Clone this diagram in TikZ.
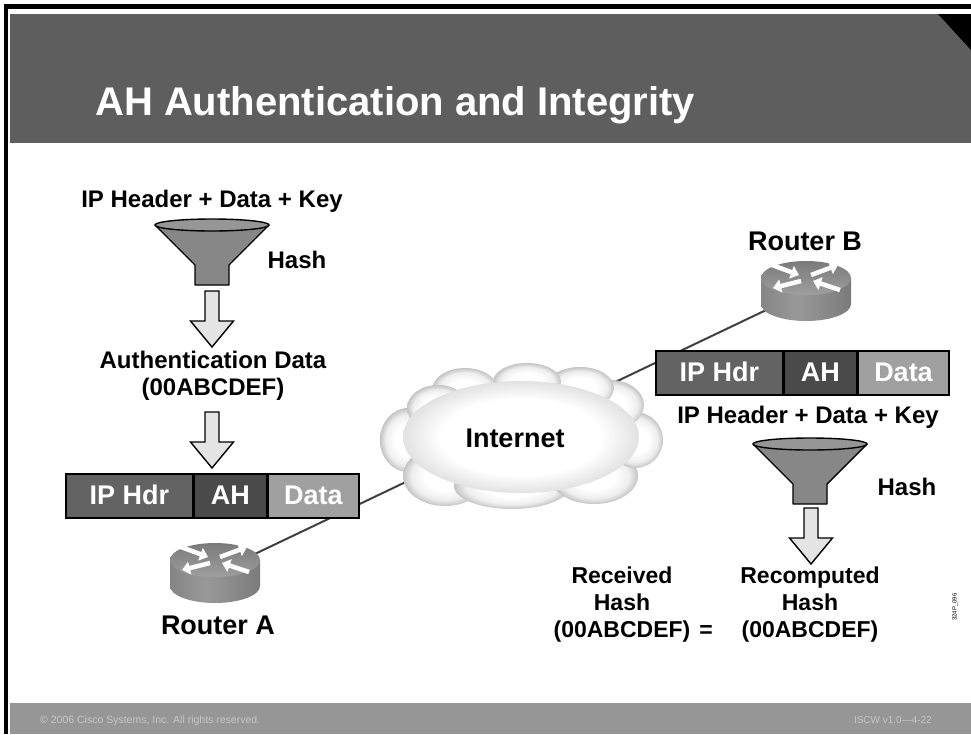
\documentclass[tikz,border=0pt]{standalone}
\usepackage{fontspec}
\setmainfont{Liberation Sans}
\usetikzlibrary{positioning, arrows.meta, calc, backgrounds}
\definecolor{bannerGrey}{RGB}{94, 94, 94}
\definecolor{footGrey}{RGB}{150, 150, 150}
\definecolor{hdrGrey}{RGB}{99, 99, 99}
\definecolor{ahGrey}{RGB}{74, 74, 74}
\definecolor{dataGrey}{RGB}{160, 160, 160}
\definecolor{funnelGrey}{RGB}{135, 135, 135}
\definecolor{rimGrey}{RGB}{150, 150, 150}
\definecolor{arrowGrey}{RGB}{228, 228, 228}
\definecolor{linkGrey}{RGB}{64, 64, 64}
\definecolor{puffMid}{RGB}{238, 238, 238}
\definecolor{puffEdge}{RGB}{196, 196, 196}
\definecolor{bodyEdge}{RGB}{226, 226, 226}

% puffs of the cloud and the side of a router
\pgfdeclareradialshading{puff}{\pgfpointorigin}{color(0bp)=(white); color(12bp)=(white); color(20bp)=(puffMid); color(25bp)=(puffEdge); color(50bp)=(puffEdge)}
\pgfdeclareradialshading{cloudbody}{\pgfpointorigin}{color(0bp)=(white); color(17bp)=(white); color(25bp)=(bodyEdge); color(50bp)=(bodyEdge)}
\pgfdeclarehorizontalshading{routerside}{100bp}{color(0bp)=(black!58); color(45bp)=(black!40); color(100bp)=(black!62)}

% router: name, x, y of the body centre
\newcommand{\drawrouter}[3]{
    \shade[shading=routerside] (#2-45,#3-13) -- (#2-45,#3+13) arc[start angle=180, end angle=0, x radius=45, y radius=17] -- (#2+45,#3-13) -- cycle;
    \shade[top color=black!52, bottom color=black!38] (#2,#3-13) ellipse[x radius=45, y radius=17];
    \begin{scope}[shift={(#2,#3-13)}]
        \draw[routerarrow] (-34,-13) -- (-7,-3);
        \draw[routerarrow] (5,-3) -- (32,-13);
        \draw[routerarrow] (-5,3) -- (-33,10);
        \draw[routerarrow] (34,12) -- (7,3);
    \end{scope}
    \node[inner sep=0, minimum width=90, minimum height=60] (#1) at (#2,#3) {};
}

\begin{document}
\begin{tikzpicture} [
        x=1pt, y=-1pt,
        lbl/.style={font=\fontsize{24}{27.5}\selectfont\bfseries, align=center, inner sep=0},
        rtr/.style={font=\fontsize{27}{30}\selectfont\bfseries, inner sep=0},
        pkt/.style={draw, line width=1.6pt, minimum height=44, inner sep=0, text=white,
            text height=19pt, text depth=1pt, font=\fontsize{27}{30}\selectfont\bfseries},
        hdr/.style={pkt, fill=hdrGrey, minimum width=127},
        ahbox/.style={pkt, fill=ahGrey, minimum width=72},
        databox/.style={pkt, fill=dataGrey, minimum width=91},
        link/.style={draw=linkGrey, line width=2pt},
        funnelline/.style={draw=black, line width=1.4pt, line join=round},
        arrowline/.style={draw=black, line width=1.4pt, fill=arrowGrey},
        routerarrow/.style={white, line width=4.5pt, -{Triangle[width=13pt, length=8pt]}},
        funnel/.pic={
            \draw[funnelline, fill=funnelGrey] (-57,0) -- (-17,40) -- (-17,60) -- (17,60) -- (17,40) -- (57,0) -- cycle;
            \draw[funnelline, fill=rimGrey] (0,0) ellipse[x radius=57, y radius=6];
        },
        hollow arrow/.pic={
            \draw[arrowline] (-7,0) -- (7,0) -- (7,30) -- (21.5,30) -- (0,56) -- (-21.5,30) -- (-7,30) -- cycle;
        }
    ]
    \useasboundingbox (0,0) rectangle (971,734);

    % slide frame, banner and footer
    \begin{scope}[on background layer]
        \fill[white] (0,0) rectangle (971,734);
        \fill[black] (4,4) rectangle (971,9);
        \fill[black] (4,4) rectangle (8,734);
        \fill[bannerGrey] (10,14) rectangle (971,143);
        \fill[black] (938,14) -- (971,14) -- (971,50) -- cycle;
        \fill[footGrey] (10,703) rectangle (971,734);
    \end{scope}
    \node[anchor=base west, text=white, inner sep=0, font=\fontsize{40}{44}\selectfont\bfseries] (title) at (95,115) {AH Authentication and Integrity};
    \node[anchor=base west, text=black!22, inner sep=0, font=\fontsize{10.5}{12}\selectfont] (copy) at (40,723) {\textcopyright{} 2006 Cisco Systems, Inc. All rights reserved.};
    \node[anchor=base east, text=black!22, inner sep=0, font=\fontsize{10}{12}\selectfont] (course) at (932,723) {ISCW v1.0---4-22};

    % sender side
    \node[lbl] (keyL) at (212,201) {IP Header + Data + Key};
    \pic (hashL) at (212,225) {funnel};
    \node[lbl] (hashTxtL) at (297,260) {Hash};
    \pic at (212,291) {hollow arrow};
    \node[lbl] (authData) at (213,376) {Authentication Data\\(00ABCDEF)};
    \pic at (212,412) {hollow arrow};

    % cloud: puffs round the rim, then one soft body over them
    \foreach \cx/\cy/\rx/\ry in {408/440/28/32, 445/476/42/30, 512/486/58/23, 594/476/44/28,
            635/440/28/28, 610/405/34/25, 580/388/34/21, 527/382/34/19, 465/390/33/22, 438/408/31/23} {
        \shade[shading=puff] (\cx,\cy) ellipse[x radius=\rx, y radius=\ry];
    }
    \shade[shading=cloudbody] (521,437) ellipse[x radius=118, y radius=56];
    \node[rtr] (inet) at (515,438) {Internet};

    % packets
    \node[hdr, anchor=north west] (ipA) at (65,473) {IP Hdr};
    \node[ahbox, right=0pt of ipA] (ahA) {AH};
    \node[databox, right=0pt of ahA] (dataA) {Data};

    \node[hdr, anchor=north west] (ipB) at (655,350) {IP Hdr};
    \node[ahbox, right=0pt of ipB] (ahB) {AH};
    \node[databox, right=0pt of ahB] (dataB) {Data};

    % routers
    \drawrouter{rA}{215}{573}
    \node[rtr] (labelA) at (218,625) {Router A};
    \drawrouter{rB}{806}{291}
    \node[rtr] (labelB) at (805,241) {Router B};

    \begin{scope}[on background layer]
        \draw[link] (rA.center) -- (rB.center);
    \end{scope}

    % receiver side
    \node[lbl] (keyR) at (808,417) {IP Header + Data + Key};
    \pic (hashR) at (810,444) {funnel};
    \node[lbl] (hashTxtR) at (907,487) {Hash};
    \pic at (811,508) {hollow arrow};
    \node[lbl, font=\fontsize{23}{27}\selectfont\bfseries] (recv) at (622,605) {Received\\Hash\\(00ABCDEF)};
    \node[lbl, font=\fontsize{23}{27}\selectfont\bfseries] (eq) at (706,632) {=};
    \node[lbl, font=\fontsize{23}{27}\selectfont\bfseries] (recomp) at (810,605) {Recomputed\\Hash\\(00ABCDEF)};

    \node[rotate=90, inner sep=0, font=\fontsize{6}{7}\selectfont] (slideid) at (955,607) {324P\_096};
\end{tikzpicture}
\end{document}
